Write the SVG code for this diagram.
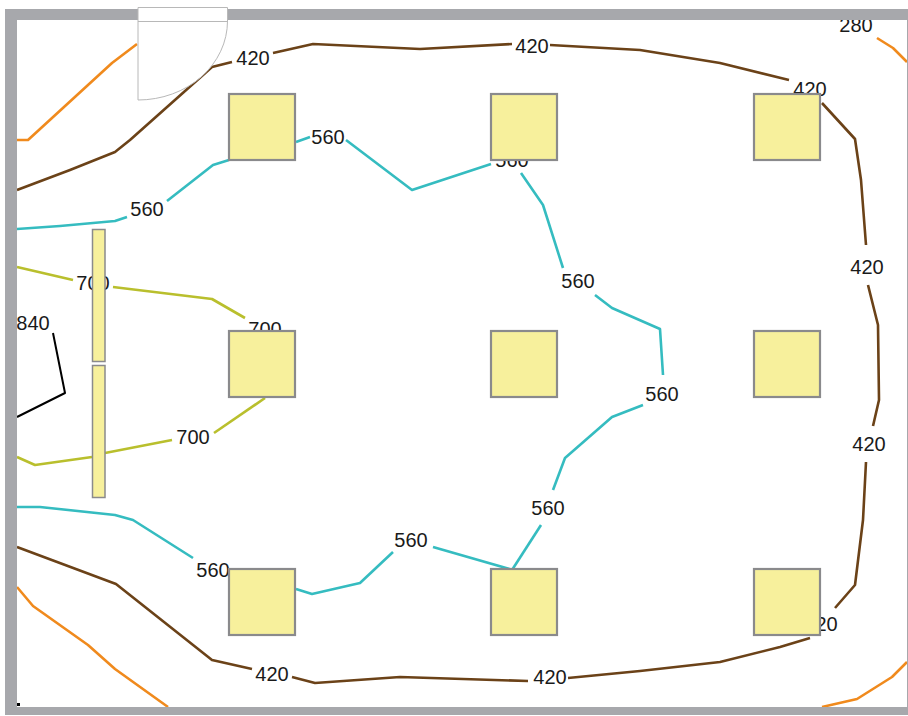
<svg xmlns="http://www.w3.org/2000/svg" width="908" height="716" viewBox="0 0 908 716">
<style>
.c{fill:none;stroke-width:2.6;stroke-linejoin:round}
.or{stroke:#f08a1d}.br{stroke:#6b4218}.te{stroke:#35bcc0}.ol{stroke:#b9bf2d}.bk{stroke:#000;stroke-width:2}
.l{font-family:"Liberation Sans",Arial,sans-serif;font-size:20px;fill:#1a1a1a;text-anchor:middle}
.n{fill:#f7f09c;stroke:#8a8a8c;stroke-width:2.2}
.b{fill:#f7f09c;stroke:#8a8a8c;stroke-width:1.5}
</style>
<rect width="908" height="716" fill="#fff"/>
<g id="labels">
<text class="l" x="253" y="65">420</text>
<text class="l" x="532" y="53">420</text>
<text class="l" x="810" y="96">420</text>
<text class="l" x="867" y="274">420</text>
<text class="l" x="869" y="451">420</text>
<text class="l" x="821" y="631">420</text>
<text class="l" x="550" y="684">420</text>
<text class="l" x="272" y="681">420</text>
<text class="l" x="856" y="32">280</text>
<text class="l" x="147" y="216">560</text>
<text class="l" x="328" y="144">560</text>
<text class="l" x="512" y="167">560</text>
<text class="l" x="578" y="288">560</text>
<text class="l" x="662" y="401">560</text>
<text class="l" x="548" y="515">560</text>
<text class="l" x="411" y="547">560</text>
<text class="l" x="213" y="577">560</text>
<text class="l" x="93" y="290">700</text>
<text class="l" x="265" y="336">700</text>
<text class="l" x="193" y="444">700</text>
<text class="l" x="33" y="330">840</text>
</g>
<g id="connectors">
<polyline class="c or" points="17,140 28,140 112,63 137,44"/>
<polyline class="c or" points="17,587 33,606 88,645 115,669 168,707"/>
<polyline class="c or" points="877,38 893,48 907,62"/>
<polyline class="c or" points="907,662 892,677 857,699 822,707"/>
<polyline class="c br" points="17,190 70,170 115,152 130,140 212,67 232,62"/>
<polyline class="c br" points="273,53 313,44 420,49 512,44"/>
<polyline class="c br" points="550,45 640,50 720,63 789,80"/>
<polyline class="c br" points="822,103 855,139 861,180 866,245"/>
<polyline class="c br" points="868,285 878,325 879,400 873,426"/>
<polyline class="c br" points="866,462 863,520 855,585 835,608"/>
<polyline class="c br" points="810,638 780,647 720,662 640,671 568,678"/>
<polyline class="c br" points="528,681 400,677 315,683 292,677"/>
<polyline class="c br" points="252,669 212,660 116,584 17,547"/>
<polyline class="c te" points="17,229 60,226 115,221 127,217"/>
<polyline class="c te" points="167,201 213,165 229,160"/>
<polyline class="c te" points="296,142 310,137"/>
<polyline class="c te" points="346,140 412,190 491,164"/>
<polyline class="c te" points="521,173 543,205 563,268"/>
<polyline class="c te" points="595,295 612,308 660,329 663,375"/>
<polyline class="c te" points="643,405 612,417 565,458 553,490"/>
<polyline class="c te" points="541,525 512,570"/>
<polyline class="c te" points="433,547 513,570"/>
<polyline class="c te" points="393,552 360,583 312,594 296,589"/>
<polyline class="c te" points="17,507 40,507 115,515 133,520 193,558"/>
<polyline class="c ol" points="17,267 73,280"/>
<polyline class="c ol" points="113,287 212,299 245,318"/>
<polyline class="c ol" points="17,457 35,465 92,457"/>
<polyline class="c ol" points="105,453 172,440"/>
<polyline class="c ol" points="214,433 265,398"/>
<polyline class="c bk" points="53,333 65,393 17,417"/>
</g>
<g id="walls">
<path fill="#a7a8ac" fill-rule="evenodd" d="M5,9H908V715H5ZM17,20V707H907V20Z"/>
<rect x="17" y="703" width="3" height="3" fill="#000"/>
</g>
<g id="door" fill="#fff" stroke="#b8b8b8" stroke-width="1">
<path d="M138,7.500H227.500V21A89.500,79 0 0 1 138,100Z"/>
<path d="M138,21.500H227.500" fill="none"/>
</g>
<g id="bar-1"><rect class="b" x="92.500" y="229.500" width="12.500" height="132"/></g>
<g id="bar-2"><rect class="b" x="92.500" y="365.500" width="12.500" height="132"/></g>
<g id="lamp-1"><rect class="n" x="229" y="94" width="66" height="66"/></g>
<g id="lamp-2"><rect class="n" x="491" y="94" width="66" height="66"/></g>
<g id="lamp-3"><rect class="n" x="754" y="94" width="66" height="66"/></g>
<g id="lamp-4"><rect class="n" x="229" y="331" width="66" height="66"/></g>
<g id="lamp-5"><rect class="n" x="491" y="331" width="66" height="66"/></g>
<g id="lamp-6"><rect class="n" x="754" y="331" width="66" height="66"/></g>
<g id="lamp-7"><rect class="n" x="229" y="569" width="66" height="66"/></g>
<g id="lamp-8"><rect class="n" x="491" y="569" width="66" height="66"/></g>
<g id="lamp-9"><rect class="n" x="754" y="569" width="66" height="66"/></g>
</svg>
